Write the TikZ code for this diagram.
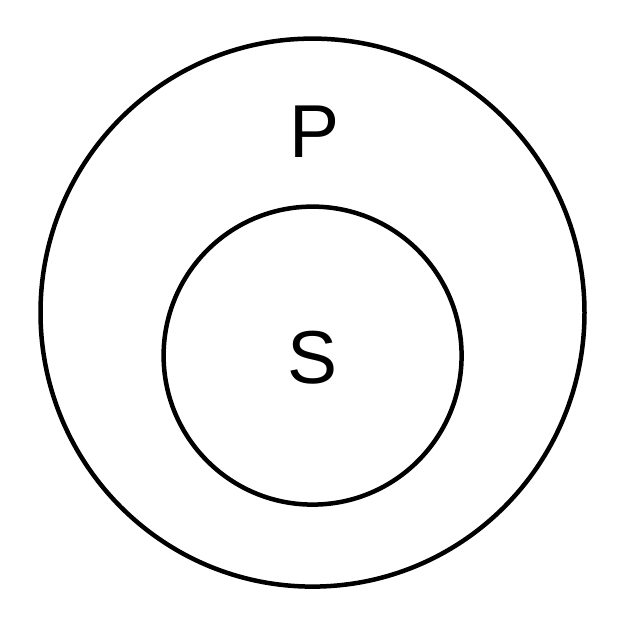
\documentclass[tikz,border=0pt]{standalone}
\usepackage{fontspec}
\setmainfont{Liberation Sans}
\begin{document}
\begin{tikzpicture}[x=1pt,y=-1pt,
  ring/.style={draw=black,line width=4.5pt},
  lbl/.style={font=\fontsize{75}{75}\selectfont,inner sep=0pt,anchor=center}]
\useasboundingbox (0,0) rectangle (627,627);
\fill[white] (0,0) rectangle (627,627);
\draw[ring] (312.5,312.6) ellipse [x radius=272, y radius=274];
\draw[ring] (312.6,355.6) circle [radius=149];
\node[lbl] (p) at (314.5,131.5) {P};
\node[lbl] (s) at (312.5,357.5) {S};
\end{tikzpicture}
\end{document}
